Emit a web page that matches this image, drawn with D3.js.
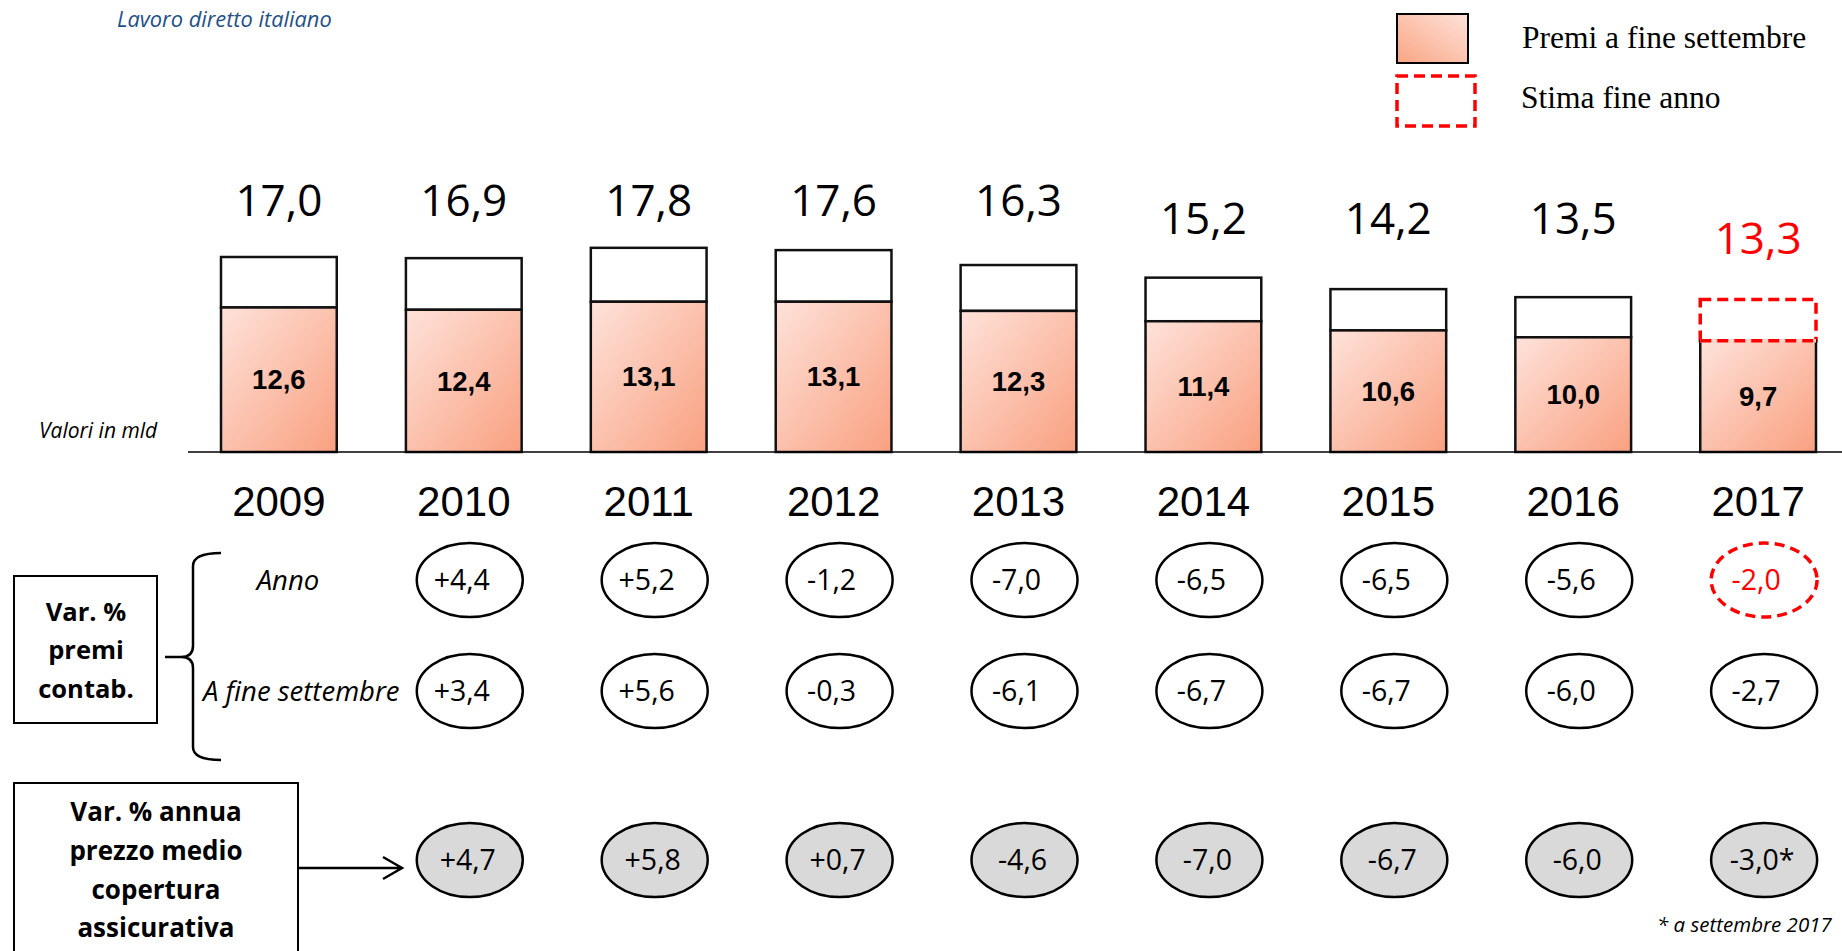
<!DOCTYPE html>
<html>
  <head>
    <meta charset="utf-8">
    <title>Lavoro diretto italiano</title>
    <script src="https://cdn.jsdelivr.net/npm/d3@7"></script>
    <style>
      body { margin: 0; background: #fff; }
    </style>
  </head>
  <body>
    <div id="my_dataviz"></div>

    <script>

    // values
    var years      = ["2009", "2010", "2011", "2012", "2013", "2014", "2015", "2016", "2017"];
    var totals     = [17.0, 16.9, 17.8, 17.6, 16.3, 15.2, 14.2, 13.5, 13.3];
    var premiSett  = [12.6, 12.4, 13.1, 13.1, 12.3, 11.4, 10.6, 10.0, 9.7];
    var labelTier  = [0, 0, 0, 0, 0, 1, 1, 1, 2];
    var estimate   = [false, false, false, false, false, false, false, false, true];

    // percentage changes, 2010 onwards
    var varYears   = ["2010", "2011", "2012", "2013", "2014", "2015", "2016", "2017"];
    var varAnno    = [4.4, 5.2, -1.2, -7.0, -6.5, -6.5, -5.6, -2.0];
    var varSett    = [3.4, 5.6, -0.3, -6.1, -6.7, -6.7, -6.0, -2.7];
    var varPrezzo  = [4.7, 5.8, 0.7, -4.6, -7.0, -6.7, -6.0, -3.0];
    var prezzoNote = ["", "", "", "", "", "", "", "*"];
    var annoEstimate = [false, false, false, false, false, false, false, true];

    var width = 1842, height = 951;
    var red = "#ff0000";
    var sans = "'Open Sans', 'Noto Sans', sans-serif";
    var arial = "'Liberation Sans', Arial, sans-serif";
    var serif = "'Liberation Serif', 'Times New Roman', serif";

    // hyphen minus like the original, decimal comma
    function fmt(v) {
        return (v > 0 ? "+" : v < 0 ? "-" : "") + Math.abs(v).toFixed(1).replace(".", ",");
    }

    var svg = d3.select("#my_dataviz")
      .append("svg")
        .attr("width", width)
        .attr("height", height)
        .style("display", "block");

    var defs = svg.append("defs");
    var grad = defs.append("linearGradient").attr("id", "barGrad")
        .attr("x1", 0).attr("y1", 0).attr("x2", 1).attr("y2", 1);
    grad.append("stop").attr("offset", "0%").attr("stop-color", "#fee2da");
    grad.append("stop").attr("offset", "100%").attr("stop-color", "#f9a080");
    var grad2 = defs.append("linearGradient").attr("id", "legGrad")
        .attr("x1", 1).attr("y1", 0).attr("x2", 0).attr("y2", 1);
    grad2.append("stop").attr("offset", "0%").attr("stop-color", "#fee2da");
    grad2.append("stop").attr("offset", "100%").attr("stop-color", "#f9a583");

    // scales
    var x = d3.scaleBand()
        .domain(years)
        .range([221, 1816])
        .paddingInner(0.374)
        .paddingOuter(0);
    var y = d3.scaleLinear()
        .domain([0, 17])
        .range([452, 257]);
    var tierY = [200, 218.5, 238.5];

    function cx(yr) { return x(yr) + x.bandwidth() / 2; }

    // title
    svg.append("text")
        .attr("x", 117).attr("y", 19).attr("dy", "0.35em")
        .style("font-family", sans).style("font-style", "italic")
        .style("font-size", "21.8px").style("fill", "#24508a")
        .text("Lavoro diretto italiano");

    // legend
    svg.append("rect")
        .attr("x", 1397).attr("y", 14).attr("width", 71).attr("height", 49)
        .style("fill", "url(#legGrad)").style("stroke", "#000").style("stroke-width", 2);
    svg.append("rect")
        .attr("x", 1397).attr("y", 76).attr("width", 78).attr("height", 50)
        .style("fill", "none").style("stroke", red).style("stroke-width", 3.5)
        .style("stroke-dasharray", "11,6");
    svg.append("text")
        .attr("x", 1522).attr("y", 37).attr("dy", "0.35em")
        .style("font-family", serif)
        .style("font-size", "31.5px")
        .text("Premi a fine settembre");
    svg.append("text")
        .attr("x", 1521).attr("y", 97).attr("dy", "0.35em")
        .style("font-family", serif)
        .style("font-size", "31.5px")
        .text("Stima fine anno");

    // bars: top part (total) and pink part (premi a settembre)
    var bars = svg.selectAll(".bar")
        .data(years)
        .enter().append("g").attr("class", "bar");

    bars.append("rect")
        .attr("x", function(d) { return x(d); })
        .attr("y", function(d, i) { return y(totals[i]); })
        .attr("width", x.bandwidth())
        .attr("height", function(d, i) { return y(premiSett[i]) - y(totals[i]); })
        .style("fill", "#fff")
        .style("stroke", function(d, i) { return estimate[i] ? red : "#111"; })
        .style("stroke-width", function(d, i) { return estimate[i] ? 3.5 : 2.5; })
        .style("stroke-dasharray", function(d, i) { return estimate[i] ? "11,6" : null; });

    bars.append("rect")
        .attr("x", function(d) { return x(d); })
        .attr("y", function(d, i) { return y(premiSett[i]); })
        .attr("width", x.bandwidth())
        .attr("height", function(d, i) { return y(0) - y(premiSett[i]); })
        .style("fill", "url(#barGrad)")
        .style("stroke", "#111")
        .style("stroke-width", 2.5);

    // redraw the dashed estimate edge on top so the red line wins over the black one
    var est = bars.filter(function(d, i) { return estimate[i]; });
    est.append("line")
        .attr("x1", function(d) { return x(d); })
        .attr("x2", function(d) { return x(d) + x.bandwidth(); })
        .attr("y1", function(d) { return y(premiSett[years.indexOf(d)]); })
        .attr("y2", function(d) { return y(premiSett[years.indexOf(d)]); })
        .style("stroke", "#fdd5c8").style("stroke-width", 3.5);
    est.append("line")
        .attr("x1", function(d) { return x(d); })
        .attr("x2", function(d) { return x(d) + x.bandwidth(); })
        .attr("y1", function(d) { return y(premiSett[years.indexOf(d)]); })
        .attr("y2", function(d) { return y(premiSett[years.indexOf(d)]); })
        .style("stroke", red).style("stroke-width", 3.5)
        .style("stroke-dasharray", "11,6");

    // value inside the pink part
    bars.append("text")
        .attr("x", function(d) { return cx(d); })
        .attr("y", function(d, i) { return (y(premiSett[i]) + y(0)) / 2; })
        .attr("dy", "0.35em")
        .attr("text-anchor", "middle")
        .style("font-family", arial).style("font-weight", "bold")
        .style("font-size", "27.5px")
        .text(function(d, i) { return fmt(premiSett[i]).replace("+", ""); });

    // total above the bar
    bars.append("text")
        .attr("x", function(d) { return cx(d); })
        .attr("y", function(d, i) { return tierY[labelTier[i]]; })
        .attr("dy", "0.36em")
        .attr("text-anchor", "middle")
        .style("font-family", sans)
        .style("font-size", "44px")
        .style("fill", function(d, i) { return estimate[i] ? red : "#000"; })
        .text(function(d, i) { return fmt(totals[i]).replace("+", ""); });

    // baseline
    svg.append("line")
        .attr("x1", 188).attr("x2", width)
        .attr("y1", y(0)).attr("y2", y(0))
        .style("stroke", "#000").style("stroke-width", 1.5);

    // year axis
    var xAxis = svg.append("g")
        .attr("transform", "translate(0,486)")
        .call(d3.axisBottom(x).tickSize(0).tickPadding(0));
    xAxis.select(".domain").remove();
    xAxis.selectAll("text")
        .attr("dy", "0.71em")
        .style("font-family", arial)
        .style("font-size", "42px")
        .style("fill", "#000");

    svg.append("text")
        .attr("x", 39).attr("y", 431).attr("dy", "0.35em")
        .style("font-family", sans).style("font-style", "italic")
        .style("font-size", "21px")
        .text("Valori in mld");

    // left boxes
    svg.append("rect")
        .attr("x", 14).attr("y", 576).attr("width", 143).attr("height", 147)
        .style("fill", "none").style("stroke", "#000").style("stroke-width", 2);
    svg.append("text")
        .attr("text-anchor", "middle")
        .style("font-family", sans).style("font-weight", "bold")
        .style("font-size", "25.5px")
      .selectAll("tspan")
        .data(["Var. %", "premi", "contab."])
        .enter().append("tspan")
        .attr("x", 86)
        .attr("y", function(d, i) { return 612 + i * 38.5; })
        .attr("dy", "0.35em")
        .text(function(d) { return d; });

    svg.append("rect")
        .attr("x", 14).attr("y", 783).attr("width", 284).attr("height", 200)
        .style("fill", "none").style("stroke", "#000").style("stroke-width", 2);
    svg.append("text")
        .attr("text-anchor", "middle")
        .style("font-family", sans).style("font-weight", "bold")
        .style("font-size", "26px")
      .selectAll("tspan")
        .data(["Var. % annua", "prezzo medio", "copertura", "assicurativa"])
        .enter().append("tspan")
        .attr("x", 156)
        .attr("y", function(d, i) { return 812 + i * 38.7; })
        .attr("dy", "0.35em")
        .text(function(d) { return d; });

    // brace
    svg.append("path")
        .attr("d", "M221,553 Q193,553 193,566 L193,646 Q193,657 181,657 L165,657 M181,657 Q193,657 193,668 L193,747 Q193,760 221,760")
        .style("fill", "none").style("stroke", "#000").style("stroke-width", 2.5);

    // arrow
    svg.append("path")
        .attr("d", "M298,868 L402,868 M383,857 L402,868 L383,879")
        .style("fill", "none").style("stroke", "#000").style("stroke-width", 2.5);

    // row labels
    svg.append("text")
        .attr("x", 288).attr("y", 580).attr("dy", "0.35em")
        .attr("text-anchor", "middle")
        .style("font-family", sans).style("font-style", "italic")
        .style("font-size", "27.5px")
        .text("Anno");
    svg.append("text")
        .attr("x", 203).attr("y", 691).attr("dy", "0.35em")
        .style("font-family", sans).style("font-style", "italic")
        .style("font-size", "27.5px")
        .text("A fine settembre");

    // ellipse rows, sitting a little right of the bar centres
    var rows = [
        {vals: varAnno, cy: 580, fill: "#fff", shift: -8, est: annoEstimate, note: null},
        {vals: varSett, cy: 691, fill: "#fff", shift: -8, est: null, note: null},
        {vals: varPrezzo, cy: 860, fill: "#d9d9d9", shift: -2, est: null, note: prezzoNote}
    ];

    rows.forEach(function(r) {
        var g = svg.append("g").selectAll("g")
            .data(varYears)
            .enter().append("g")
            .attr("transform", function(d) { return "translate(" + (cx(d) + 6) + "," + r.cy + ")"; });

        g.append("ellipse")
            .attr("rx", 53).attr("ry", 37)
            .style("fill", r.fill)
            .style("stroke", function(d, i) { return r.est && r.est[i] ? red : "#000"; })
            .style("stroke-width", function(d, i) { return r.est && r.est[i] ? 3.5 : 2.5; })
            .style("stroke-dasharray", function(d, i) { return r.est && r.est[i] ? "10,6" : null; });

        g.append("text")
            .attr("x", r.shift)
            .attr("dy", "0.35em")
            .attr("text-anchor", "middle")
            .style("font-family", sans)
            .style("font-size", "28.5px")
            .style("fill", function(d, i) { return r.est && r.est[i] ? red : "#000"; })
            .text(function(d, i) { return fmt(r.vals[i]) + (r.note ? r.note[i] : ""); });
    });

    // footnote
    svg.append("text")
        .attr("x", 1657).attr("y", 925).attr("dy", "0.35em")
        .style("font-family", sans).style("font-style", "italic")
        .style("font-size", "20.5px")
        .text("* a settembre 2017");

    </script>
  </body>
</html>
